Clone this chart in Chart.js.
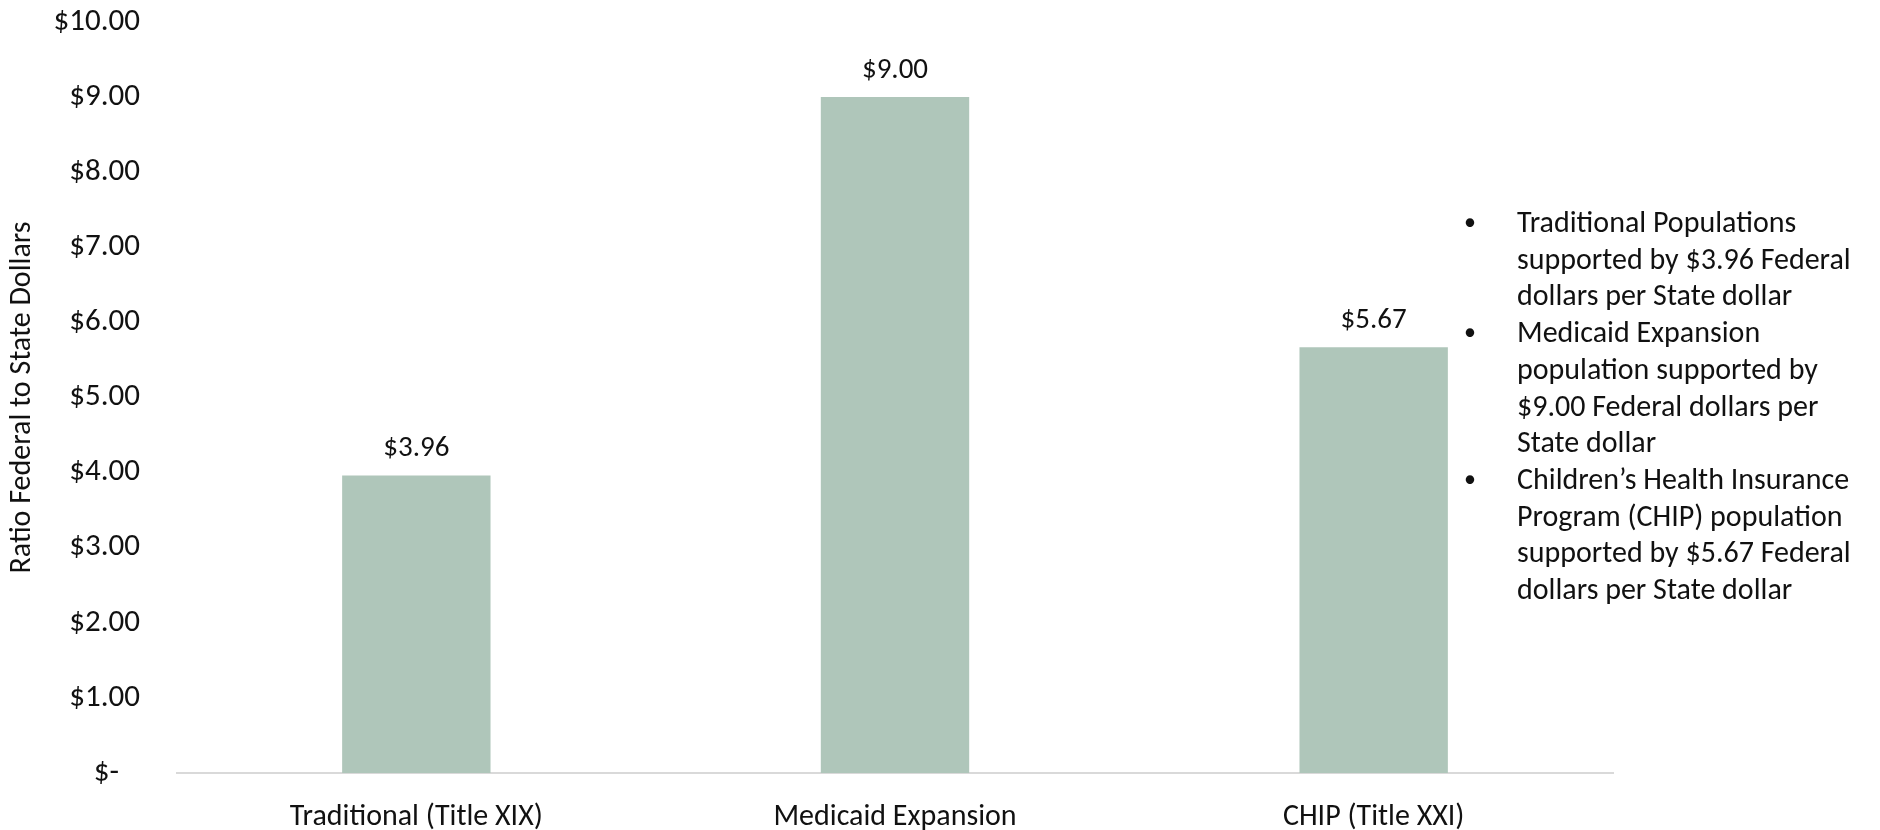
<!DOCTYPE html>
<html>
<head>
<meta charset="utf-8">
<script src="https://cdn.jsdelivr.net/npm/chart.js@4.4.1/dist/chart.umd.min.js"></script>
<style>
  html, body { margin: 0; padding: 0; background: #fff; }
  #wrap { position: relative; width: 1880px; height: 830px; }
  #notes {
    position: absolute; left: 1460px; top: 204px; width: 420px;
    font-family: Carlito, Calibri, Lato, sans-serif; font-size: 30px;
    line-height: 36.7px; color: #111; margin: 0; padding: 0; list-style: none;
  }
  #notes li { position: relative; padding-left: 57px; white-space: nowrap; }
  #notes li::before { content: "\2022"; position: absolute; left: 4px; font-size: 24px; }
</style>
</head>
<body>
<div id="wrap">
  <canvas id="ratioChart" width="1880" height="830"></canvas>
  <ul id="notes"></ul>
</div>
<script>
// values
const categories = ['Traditional (Title XIX)', 'Medicaid Expansion', 'CHIP (Title XXI)'];
const ratios = [3.96, 9.00, 5.67];
const yTicks = [0, 1, 2, 3, 4, 5, 6, 7, 8, 9, 10];
const noteLines = [
  ['Traditional Populations', 'supported by $3.96 Federal', 'dollars per State dollar'],
  ['Medicaid Expansion', 'population supported by', '$9.00 Federal dollars per', 'State dollar'],
  ['Children\u2019s Health Insurance', 'Program (CHIP) population', 'supported by $5.67 Federal', 'dollars per State dollar']
];

const FONT = 'Carlito, Calibri, Lato, sans-serif';

// bullet notes on the right
const notes = document.getElementById('notes');
noteLines.forEach((lines) => {
  const li = document.createElement('li');
  li.innerHTML = lines.join('<br>');
  notes.appendChild(li);
});

function money(v) {
  if (v === 0) return '$-   ';
  return '$' + v.toFixed(2);
}

// value labels above each bar
const barLabels = {
  id: 'barLabels',
  afterDatasetsDraw(chart) {
    const ctx = chart.ctx;
    const meta = chart.getDatasetMeta(0);
    ctx.save();
    ctx.font = '29px ' + FONT;
    ctx.fillStyle = '#111';
    ctx.textAlign = 'center';
    ctx.textBaseline = 'bottom';
    meta.data.forEach((bar, i) => {
      ctx.fillText(money(ratios[i]), bar.x, bar.y - 12);
    });
    ctx.restore();
  }
};

const ctx = document.getElementById('ratioChart').getContext('2d');
const ratioChart = new Chart(ctx, {
  type: 'bar',
  data: {
    labels: categories,
    datasets: [{
      data: ratios,
      backgroundColor: '#afc6ba',
      borderWidth: 0,
      barPercentage: 0.31,
      categoryPercentage: 1.0
    }]
  },
  options: {
    responsive: false,
    animation: false,
    layout: { padding: { top: 22, right: 267, bottom: 0, left: 0 } },
    plugins: {
      legend: { display: false },
      tooltip: { enabled: false }
    },
    scales: {
      x: {
        grid: { display: false, drawTicks: false },
        border: { display: true, color: '#d9d9d9', width: 2 },
        ticks: { color: '#111', font: { family: FONT, size: 30 }, padding: 26, maxRotation: 0 },
        afterFit(scale) { scale.height = 57; scale.paddingLeft = 0; scale.paddingRight = 0; }
      },
      y: {
        min: 0,
        max: 10,
        afterBuildTicks(scale) { scale.ticks = yTicks.map((v) => ({ value: v })); },
        grid: { display: false, drawTicks: false },
        border: { display: false },
        ticks: {
          color: '#111',
          font: { family: FONT, size: 31 },
          padding: 37,
          callback: (v) => money(v)
        },
        title: {
          display: true,
          text: 'Ratio Federal to State Dollars',
          color: '#111',
          font: { family: FONT, size: 30 },
          padding: { top: 4, bottom: 0 }
        },
        afterFit(scale) {
          scale.width = 177;
          scale.paddingTop = 0;
          scale.paddingBottom = 0;
        }
      }
    }
  },
  plugins: [barLabels]
});
</script>
</body>
</html>
